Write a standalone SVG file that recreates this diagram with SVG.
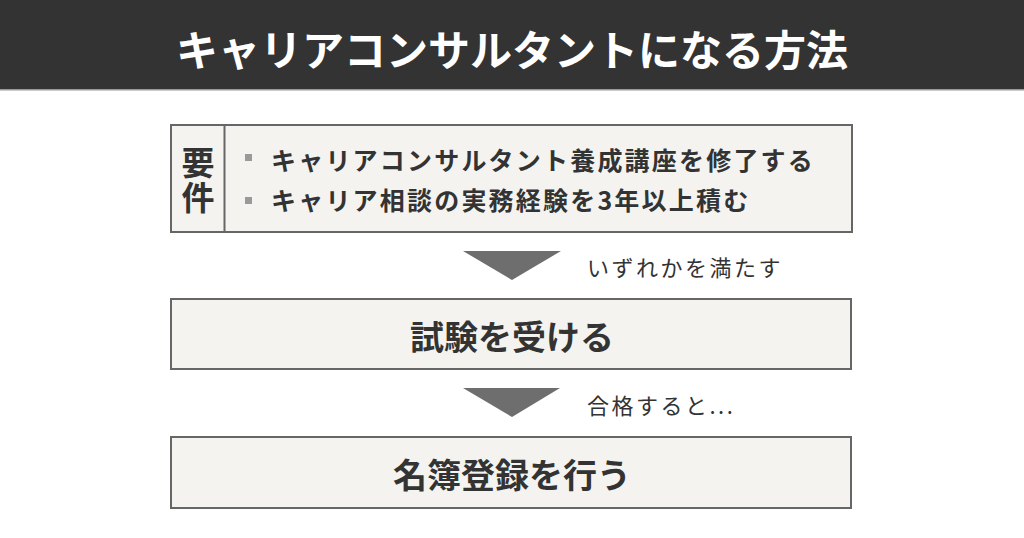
<svg xmlns="http://www.w3.org/2000/svg" width="1024" height="538" viewBox="0 0 1024 538">
<style>
.t{font-family:"Noto Sans CJK JP","Noto Sans",sans-serif;fill:#333}
.b{font-weight:bold}
.box{fill:#f4f3f0;stroke:#666;stroke-width:2}
.arr{fill:#6e6e6e}
</style>
<rect x="0" y="0" width="1024" height="538" fill="#fff"/>
<g id="header">
<rect x="0" y="0" width="1024" height="89" fill="#333"/>
<rect x="0" y="89" width="1024" height="1.5" fill="#9a9a9a"/>
<text x="512" y="47" class="t b" font-size="42" style="fill:#fff" text-anchor="middle" dominant-baseline="central">キャリアコンサルタントになる方法</text>
</g>
<g id="requirements">
<rect class="box" x="171" y="125" width="681" height="107"/>
<line x1="224.5" y1="125" x2="224.5" y2="232" stroke="#666" stroke-width="2"/>
<text x="198" y="180.5" class="t b" font-size="33" letter-spacing="2" writing-mode="vertical-rl" text-anchor="middle">要件</text>
<rect x="245" y="154" width="7" height="7" fill="#999"/>
<rect x="245" y="197" width="7" height="7" fill="#999"/>
<text x="271" y="159" class="t b" font-size="25" letter-spacing="2.2" dominant-baseline="central">キャリアコンサルタント養成講座を修了する</text>
<text x="271" y="199" class="t b" font-size="25" letter-spacing="2.2" dominant-baseline="central">キャリア相談の実務経験を3年以上積む</text>
</g>
<g id="connectors">
<polygon class="arr" points="463,251 561,251 512,280"/>
<polygon class="arr" points="463,388 560,388 512,417"/>
<text x="587" y="266" class="t" font-size="22" letter-spacing="2.5" dominant-baseline="central">いずれかを満たす</text>
<text x="587" y="404" class="t" font-size="22" letter-spacing="2.5" dominant-baseline="central">合格すると...</text>
</g>
<g id="exam">
<rect class="box" x="171" y="299" width="680" height="70"/>
<text x="512" y="335" class="t b" font-size="34" text-anchor="middle" dominant-baseline="central">試験を受ける</text>
</g>
<g id="register">
<rect class="box" x="171" y="437" width="680" height="71"/>
<text x="512" y="473" class="t b" font-size="34" text-anchor="middle" dominant-baseline="central">名簿登録を行う</text>
</g>
</svg>
